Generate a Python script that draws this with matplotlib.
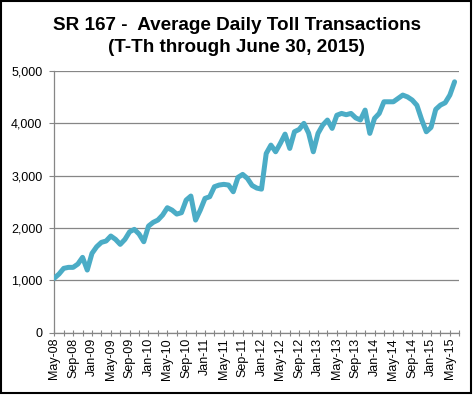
import matplotlib
matplotlib.use('Agg')
import matplotlib.pyplot as plt
from matplotlib.patches import Rectangle

# monthly average daily toll transactions, May-08 .. Jun-15
transactions = [
    1040, 1120, 1228, 1247, 1247, 1310, 1438, 1196, 1514, 1641, 1724, 1750,
    1845, 1781, 1686, 1781, 1927, 1972, 1883, 1736, 2035, 2106, 2150, 2245,
    2385, 2340, 2264, 2290, 2531, 2608, 2150, 2340, 2563, 2595, 2786, 2818,
    2831, 2818, 2690, 2964, 3021, 2945, 2810, 2760, 2740, 3420, 3580, 3453,
    3613, 3790, 3517, 3835, 3880, 3995, 3810, 3453, 3804, 3962, 4058, 3899,
    4150, 4185, 4160, 4185, 4100, 4060, 4248, 3804, 4090, 4185, 4407, 4407,
    4407, 4471, 4535, 4500, 4440, 4340, 4070, 3835, 3918, 4262, 4344, 4388,
    4535, 4788,
]
tick_labels = [
    'May-08', 'Sep-08', 'Jan-09', 'May-09', 'Sep-09', 'Jan-10', 'May-10',
    'Sep-10', 'Jan-11', 'May-11', 'Sep-11', 'Jan-12', 'May-12', 'Sep-12',
    'Jan-13', 'May-13', 'Sep-13', 'Jan-14', 'May-14', 'Sep-14', 'Jan-15',
    'May-15',
]
y_ticks = [0, 1000, 2000, 3000, 4000, 5000]

plt.rcParams['font.family'] = ['Liberation Sans', 'DejaVu Sans']

fig = plt.figure(figsize=(4.73, 3.95), dpi=100)
fig.patches.append(Rectangle((0.002, 0.004), 0.993, 0.993, transform=fig.transFigure,
                             fill=False, edgecolor='black', linewidth=1.5))

ax = fig.add_axes([0.1148, 0.1577, 0.8562, 0.6633])
months = list(range(len(transactions)))
ax.plot(months, transactions, color='#4bacc6', linewidth=3.6,
        solid_joinstyle='round', solid_capstyle='round', zorder=3)

ax.set_xlim(0, 86)
ax.set_ylim(0, 5000)
ax.set_yticks(y_ticks)
ax.set_yticklabels([f'{v:,}' for v in y_ticks], fontsize=9)
ax.yaxis.grid(True, color='#868686', linewidth=0.9)
ax.set_axisbelow(True)

ax.set_xticks(range(0, 87, 2))
labels = []
for k in range(0, 87, 2):
    labels.append(tick_labels[k // 4] if k % 4 == 0 and k // 4 < len(tick_labels) else '')
ax.set_xticklabels(labels, rotation=90, fontsize=9)
ax.tick_params(axis='x', direction='inout', length=4.5, color='#868686', pad=1.5)
ax.tick_params(axis='y', direction='out', length=3.5, color='#868686', pad=5)

for side in ['top', 'right']:
    ax.spines[side].set_visible(False)
for side in ['left', 'bottom']:
    ax.spines[side].set_color('#868686')
    ax.spines[side].set_linewidth(0.9)

fig.text(0.5, 0.935, 'SR 167 -  Average Daily Toll Transactions', ha='center', va='center',
         fontsize=13.6, fontweight='bold')
fig.text(0.5, 0.881, '(T-Th through June 30, 2015)', ha='center', va='center',
         fontsize=13.6, fontweight='bold')

fig.savefig('out.png', dpi=100)
